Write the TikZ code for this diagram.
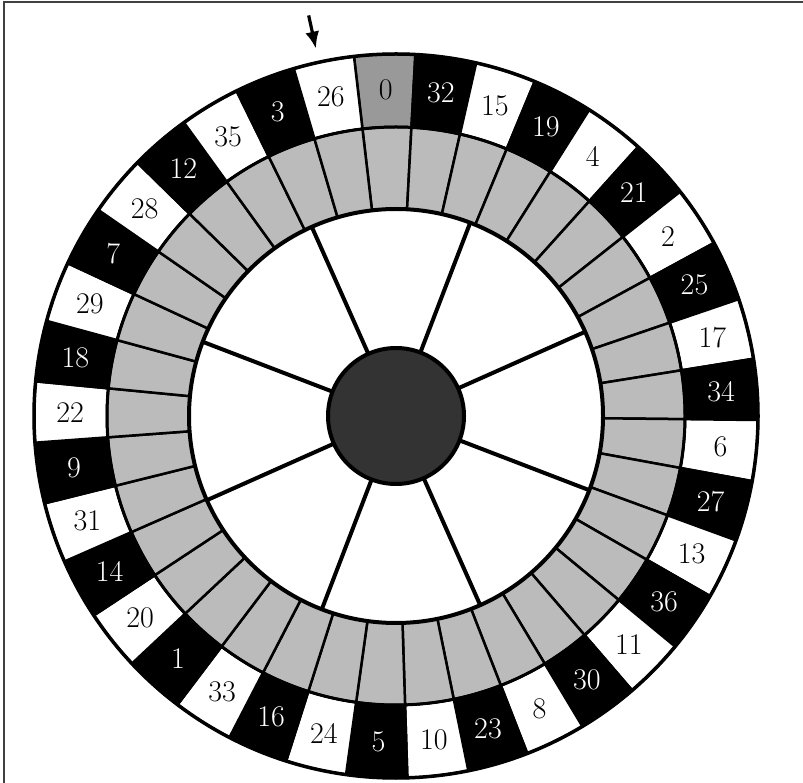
\documentclass[tikz,border=0pt]{standalone}
\usepackage{tikz}
\usepackage{xcolor}
\usetikzlibrary{arrows.meta}

\definecolor{zerogray}{HTML}{999999}
\definecolor{ringgray}{HTML}{BBBBBB}
\definecolor{hubgray}{HTML}{333333}

\begin{document}
\begin{tikzpicture}[x=1pt,y=1pt]
    \useasboundingbox (0,0) rectangle (803,782);
    \clip (0,0) rectangle (803,782);

    % frame
    \draw[line width=2, black!75] (4,-20) rectangle (830,780);

    \begin{scope}[shift={(396,366)}]
    % number pockets
    \foreach \n [count=\i from 0] in {0,32,15,19,4,21,2,25,17,34,6,27,13,36,11,30,8,23,10,5,24,16,33,1,20,14,31,9,22,18,29,7,28,12,35,3,26} {
        \pgfmathsetmacro\am{91.8-\i*360/37}
        \pgfmathsetmacro\aa{\am+180/37}
        \pgfmathsetmacro\ab{\am-180/37}
        \ifnum\i=0 \def\cellcol{zerogray}\def\txtcol{black}%
        \else\ifodd\i \def\cellcol{black}\def\txtcol{white}%
        \else \def\cellcol{white}\def\txtcol{black}\fi\fi
        \filldraw[fill=\cellcol, line width=2.5] (\aa:289) -- (\aa:362)
            arc[start angle=\aa, end angle=\ab, radius=362pt] -- (\ab:289)
            arc[start angle=\ab, end angle=\aa, radius=289pt] -- cycle;
        \filldraw[fill=ringgray, line width=2.5] (\aa:207) -- (\aa:289)
            arc[start angle=\aa, end angle=\ab, radius=289pt] -- (\ab:207)
            arc[start angle=\ab, end angle=\aa, radius=207pt] -- cycle;
        \node[text=\txtcol, font=\fontsize{30}{30}\selectfont] (p\n) at (\am:326) {\n};
    }

    % rings
    \draw[line width=3.5] (0,0) circle (362pt);
    \draw[line width=3] (0,0) circle (289pt);
    \draw[line width=4, fill=white] (0,0) circle (207pt);

    % spokes
    \foreach \k in {0,...,7}
        \draw[line width=4] (24+\k*45:68) -- (24+\k*45:207);

    % hub
    \filldraw[fill=hubgray, line width=4] (0,0) circle (68pt);

    % pointer
    \coordinate (tail) at (102.3:410);
    \coordinate (tip) at (102.3:376);
    \draw[-{Latex[length=17,width=14]}, line width=3.2] (tail) -- (tip);
    \end{scope}
\end{tikzpicture}
\end{document}
